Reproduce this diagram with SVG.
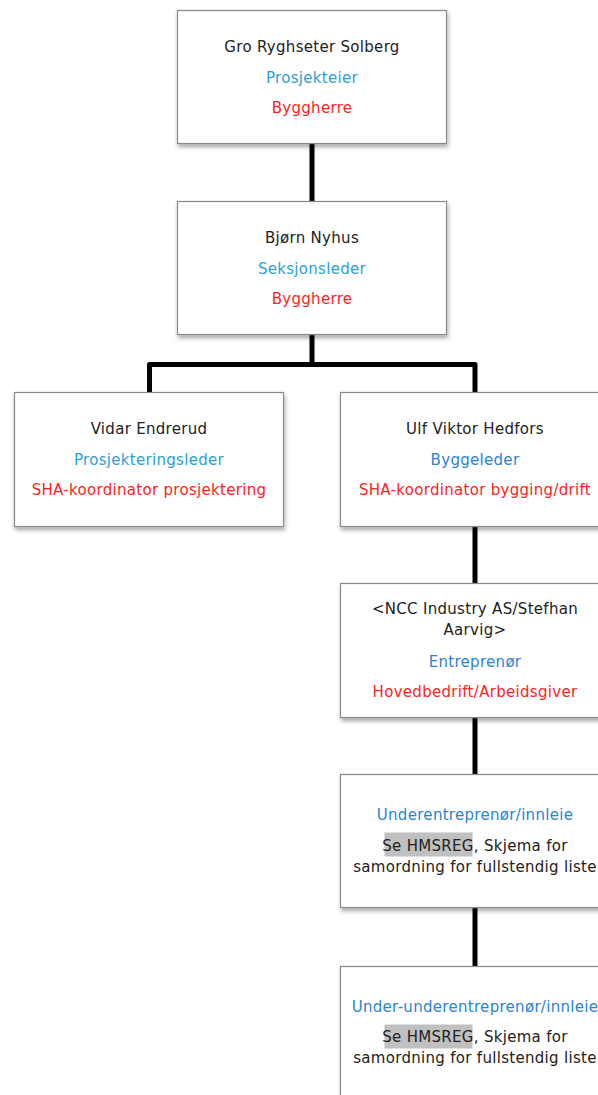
<svg xmlns="http://www.w3.org/2000/svg" width="598" height="1095" viewBox="0 0 598 1095">
<style>
.box{fill:#fff;stroke:#8a8a8a;stroke-width:1.2;filter:url(#sh)}
text{font-family:"DejaVu Sans","Verdana",sans-serif;font-size:15px;text-anchor:middle;letter-spacing:0.3px}
.n{fill:#222}
.b1{fill:#2e9fd4}
.b2{fill:#2a84d4}
.r{fill:#ff2222}
.hl{fill:#c0c0c0}
.c{fill:none;stroke:#000;stroke-width:5;stroke-linejoin:round}
</style>
<defs>
<filter id="sh" x="-10%" y="-10%" width="130%" height="130%">
<feDropShadow dx="1" dy="3" stdDeviation="2" flood-color="#000" flood-opacity="0.35"/>
</filter>
</defs>
<g id="connectors">
<path class="c" d="M312 144V201"/>
<path class="c" d="M312 335V364.5H149.5V392M312 364.5H475V392"/>
<path class="c" d="M475 527V583"/>
<path class="c" d="M475 718V774"/>
<path class="c" d="M475 908V966"/>
</g>
<g id="n1">
<rect class="box" x="177.5" y="10.5" width="269" height="133"/>
<text class="n" x="312" y="52">Gro Ryghseter Solberg</text>
<text class="b1" x="312" y="82.5">Prosjekteier</text>
<text class="r" x="312" y="113">Byggherre</text>
</g>
<g id="n2">
<rect class="box" x="177.5" y="201.5" width="269" height="133"/>
<text class="n" x="312" y="243">Bjørn Nyhus</text>
<text class="b1" x="312" y="273.5">Seksjonsleder</text>
<text class="r" x="312" y="304">Byggherre</text>
</g>
<g id="n3">
<rect class="box" x="14.5" y="392.5" width="269" height="134"/>
<text class="n" x="149" y="434">Vidar Endrerud</text>
<text class="b1" x="149" y="464.5">Prosjekteringsleder</text>
<text class="r" x="149" y="495">SHA-koordinator prosjektering</text>
</g>
<g id="n4">
<rect class="box" x="340.5" y="392.5" width="269" height="134"/>
<text class="n" x="475" y="434">Ulf Viktor Hedfors</text>
<text class="b2" x="475" y="464.5">Byggeleder</text>
<text class="r" x="475" y="495">SHA-koordinator bygging/drift</text>
</g>
<g id="n5">
<rect class="box" x="340.5" y="583.5" width="269" height="134"/>
<text class="n" x="475" y="614">&lt;NCC Industry AS/Stefhan</text>
<text class="n" x="475" y="635">Aarvig&gt;</text>
<text class="b2" x="475" y="666.5">Entreprenør</text>
<text class="r" x="475" y="697">Hovedbedrift/Arbeidsgiver</text>
</g>
<g id="n6">
<rect class="box" x="340.5" y="774.5" width="269" height="133"/>
<text class="b2" x="475" y="820">Underentreprenør/innleie</text>
<rect class="hl" x="384.5" y="832.5" width="88" height="24"/>
<text class="n" x="475" y="851">Se HMSREG, Skjema for</text>
<text class="n" x="475" y="872">samordning for fullstendig liste</text>
</g>
<g id="n7">
<rect class="box" x="340.5" y="966.5" width="269" height="134"/>
<text class="b2" x="475" y="1012">Under-underentreprenør/innleie</text>
<rect class="hl" x="384.5" y="1024.5" width="88" height="24"/>
<text class="n" x="475" y="1042">Se HMSREG, Skjema for</text>
<text class="n" x="475" y="1063">samordning for fullstendig liste</text>
</g>
</svg>
